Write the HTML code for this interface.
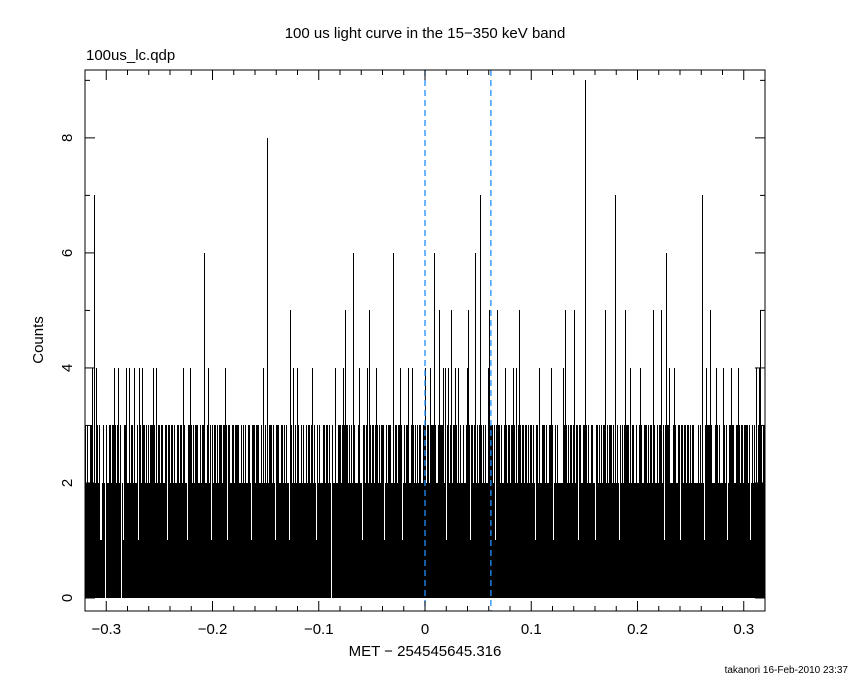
<!DOCTYPE html>
<html><head><meta charset="utf-8"><style>
body{margin:0;background:#fff}
svg{display:block;font-family:"Liberation Sans",sans-serif}
</style></head><body>
<svg id="chart" width="850" height="680" viewBox="0 0 850 680" xmlns="http://www.w3.org/2000/svg">
<rect width="850" height="680" fill="#fff"/>
<text x="425" y="38" text-anchor="middle" font-size="15">100 us light curve in the 15−350 keV band</text>
<text x="86" y="60" font-size="15">100us_lc.qdp</text>
<text transform="translate(43,340) rotate(-90)" text-anchor="middle" font-size="15">Counts</text>
<text x="425" y="656" text-anchor="middle" font-size="15">MET − 254545645.316</text>
<text x="848" y="673" text-anchor="end" font-size="10">takanori 16-Feb-2010 23:37</text>
<g id="bars" shape-rendering="crispEdges"></g>
<g id="axes"></g>
</svg>
<script>
const binWidth = 0.001;
const startTime = -0.32;
const nBins = 640;
const baseCounts = "3232233323233231232332233233232323321333223233232313322332323233232323323322331323323223323323321332323233322323322332313233232332332313322332333223232322332133233322323232323323213332233232321332323233223232323323323213232233233232332232233231323323232332233221332332332323232323331232332232332332312323322333232323322332332133323223233223133233233232332232233231332333232323232232332313333232232323233132323232332323233232133232233232233331232322222333232332322313322332323223321332323233223233232323213232323323233223223132233232332232232332313233322232322313323323323233222323232132333332232323222332312323322332323323332312323232323323232333232323";
const counts = baseCounts.split("").map(Number).slice(0, nBins);
const peakTimes = [-0.311,-0.313,-0.309,-0.208,-0.148,-0.127,-0.075,-0.067,-0.052,-0.030,
 -0.292,-0.288,-0.280,-0.277,-0.272,-0.268,-0.265,-0.256,-0.253,-0.227,-0.221,-0.204,-0.188,-0.152,-0.124,-0.120,-0.106,-0.083,-0.077,-0.062,-0.054,-0.046,-0.023,-0.016,-0.012,0.0007,
 0.0094,0.0141,0.0254,0.0414,0.048,0.0527,0.0611,0.0687,0.0894,0.1326,0.142,0.1515,0.170,0.1797,0.189,0.2154,0.2239,0.2277,0.2615,0.269,0.316,
 0.0056,0.0179,0.0198,0.0226,0.0292,0.0329,0.0405,0.0602,0.0767,0.0837,0.0865,0.1082,0.1195,0.1307,0.1938,0.2032,0.2305,0.2352,0.2653,0.2747,0.2813,0.2888,0.2954,0.3123,0.3151,
 -0.301,-0.286,-0.0875];
const peakCounts = [7,4,4,6,8,5,5,6,5,6,
 4,4,4,4,4,4,4,4,4,4,4,4,4,4,4,4,4,4,4,4,4,4,4,4,4,4,
 6,5,5,5,6,7,5,5,5,5,5,9,5,7,5,5,5,6,7,5,5,
 4,4,4,4,4,4,4,4,4,4,4,4,4,4,4,4,4,4,4,4,4,4,4,4,4,
 0,0,0];
const xTickLabels = ["−0.3","−0.2","−0.1","0","0.1","0.2","0.3"];
const xTickValues = [-0.3,-0.2,-0.1,0,0.1,0.2,0.3];
const yTickValues = [0,2,4,6,8];
const markerTimes = [0,0.062];

const X0=85,X1=765,Y0=70,Y1=611;
const xmin=-0.32,xmax=0.32, ymin=-0.226, ymax=9.18;
const xs=t=>X0+(t-xmin)/(xmax-xmin)*(X1-X0);
const ys=v=>Y1-(v-ymin)/(ymax-ymin)*(Y1-Y0);
const NS="http://www.w3.org/2000/svg";
function mk(tag,attrs,parent){const e=document.createElementNS(NS,tag);for(const k in attrs)e.setAttribute(k,attrs[k]);parent.appendChild(e);return e;}

peakTimes.forEach((t,k)=>{const i=Math.floor((t-startTime)/binWidth);if(i>=0&&i<counts.length)counts[i]=peakCounts[k];});

const bars=document.getElementById('bars');
counts.forEach((v,i)=>{
  const t=startTime+i*binWidth;
  const xa=Math.floor(xs(t)), xb=Math.floor(xs(t+binWidth));
  if(v<=0||xa>=X1)return;
  const w=Math.max(1,Math.min(xb,X1)-xa);
  const y0=Math.round(ys(0));
  if(v>=4){
    // tall spike: 1px line above level 2, full-width fill below
    const base=mk('rect',{x:xa,y:Math.round(ys(2)),width:w,height:y0-Math.round(ys(2)),fill:'#000'},bars);
    
    
    const r=mk('rect',{x:xa,y:Math.round(ys(v)),width:1,height:Math.round(ys(2))-Math.round(ys(v)),fill:'#000'},bars);
    
    
    return;
  }
  const r=mk('rect',{x:xa,y:Math.round(ys(v)),width:w,height:y0-Math.round(ys(v)),fill:'#000'},bars);
  
  
});

const axes=document.getElementById('axes');
markerTimes.forEach(t=>{
  const l=mk('line',{x1:xs(t),x2:xs(t),y1:Y0,y2:Y1,stroke:'#1e8fff','stroke-width':1.3,'stroke-dasharray':'6,4'},axes);
  
  
});
const frame=mk('rect',{x:X0,y:Y0,width:X1-X0,height:Y1-Y0,fill:'none',stroke:'#000','stroke-width':1},axes);


for(let k=-16;k<=16;k++){
  const t=k*0.02, x=xs(t), L=(k%5===0)?10:5;
  mk('line',{x1:x,x2:x,y1:Y1,y2:Y1-L,stroke:'#000'},axes);
  mk('line',{x1:x,x2:x,y1:Y0,y2:Y0+L,stroke:'#000'},axes);
}
for(let v=0;v<=9;v++){
  const y=ys(v), L=(v%2===0)?10:5;
  mk('line',{x1:X0,x2:X0+L,y1:y,y2:y,stroke:'#000'},axes);
  mk('line',{x1:X1,x2:X1-L,y1:y,y2:y,stroke:'#000'},axes);
}
xTickValues.forEach((t,k)=>{
  const tx=mk('text',{x:xs(t),y:634,'text-anchor':'middle','font-size':15},axes);
  tx.textContent=xTickLabels[k];
  
  
});
yTickValues.forEach(v=>{
  const tx=mk('text',{transform:`translate(72,${ys(v)}) rotate(-90)`,'text-anchor':'middle','font-size':15},axes);
  tx.textContent=String(v);
  
  
});
</script>
</body></html>
